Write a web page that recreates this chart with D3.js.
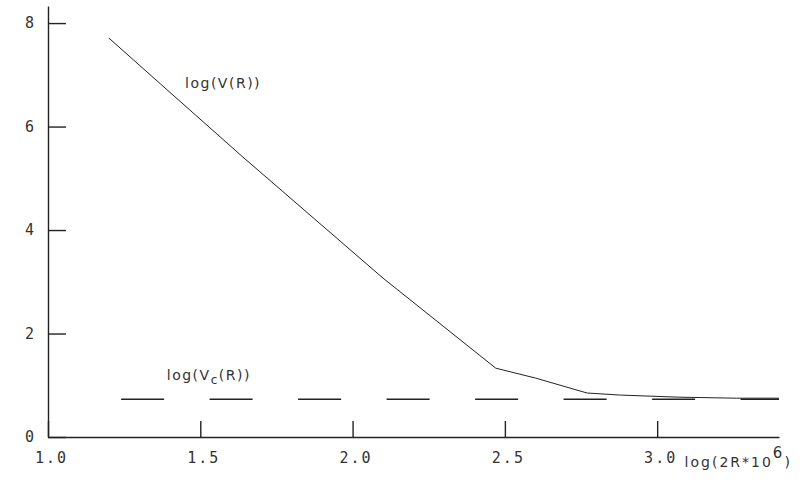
<!DOCTYPE html>
<html>

<head>
  <title>log V(R) vs log(2R*10^6)</title>
  <script src="https://cdn.jsdelivr.net/npm/d3@7"></script>
  <style type="text/css">
    html,
    body {
      padding: 0;
      margin: 0;
      background: #fff;
    }

    svg {
      display: block;
    }

    .axis path,
    .axis line {
      fill: none;
      stroke: #222;
      stroke-width: 1.4px;
    }

    .axis text {
      font-family: "DejaVu Sans Mono", monospace;
      font-size: 15px;
      fill: #333;
      letter-spacing: 2px;
    }

    .lbl {
      font-family: "DejaVu Sans", sans-serif;
      font-size: 14px;
      letter-spacing: 1.5px;
      fill: #333;
    }
  </style>
</head>

<body>
  <svg class="svg"></svg>
  <script type="text/javascript">
    // ticks
    var xTicks = [1.0, 1.5, 2.0, 2.5, 3.0];
    var yTicks = [0, 2, 4, 6, 8];

    // log(V(R)) curve
    var logR = [1.2, 1.37, 1.64, 2.1, 2.47, 2.6, 2.77, 2.88, 3.07, 3.26, 3.4];
    var logV = [7.71, 6.82, 5.41, 3.07, 1.33, 1.14, 0.85, 0.81, 0.77, 0.75, 0.75];

    // log(Vc(R)) dashed level
    var logRc = [1.24, 3.4];
    var logVc = [0.73, 0.73];

    var W = 808, H = 484;
    var svg = d3.select('.svg')
      .attr('width', W)
      .attr('height', H);

    var xScale = d3.scaleLinear()
      .domain([1.0, 3.4])
      .range([48, 779]);

    var yScale = d3.scaleLinear()
      .domain([0, 8.33])
      .range([437, 6]);

    var xAxis = d3.axisBottom(xScale)
      .tickValues(xTicks)
      .tickFormat(d3.format('.1f'))
      .tickSizeInner(-16)
      .tickSizeOuter(0)
      .tickPadding(15);

    var yAxis = d3.axisLeft(yScale)
      .tickValues(yTicks)
      .tickFormat(d3.format('d'))
      .tickSizeInner(-18)
      .tickSizeOuter(0)
      .tickPadding(14);

    svg.append('g')
      .attr('class', 'x axis')
      .attr('transform', `translate(0, ${yScale(0)})`)
      .call(xAxis);

    svg.append('g')
      .attr('class', 'y axis')
      .attr('transform', `translate(${xScale(1.0)}, 0)`)
      .call(yAxis);

    svg.select('.x.axis').selectAll('.tick text')
      .attr('dx', 3);

    svg.select('.y.axis').selectAll('.tick text')
      .style('letter-spacing', '0px');

    var line = d3.line()
      .x(d => xScale(d[0]))
      .y(d => yScale(d[1]));

    // dashed Vc
    svg.append('path')
      .datum(d3.zip(logRc, logVc))
      .attr('fill', 'none')
      .attr('stroke', '#222')
      .attr('stroke-width', 1.5)
      .attr('stroke-dasharray', '43,45.5')
      .attr('d', line);

    // V(R)
    svg.append('path')
      .datum(d3.zip(logR, logV))
      .attr('fill', 'none')
      .attr('stroke', '#222')
      .attr('stroke-width', 1)
      .attr('d', line);

    // labels
    var t1 = svg.append('text')
      .attr('class', 'lbl')
      .attr('x', xScale(1.45))
      .attr('y', yScale(6.75))
      .text('log(V(R))');

    var t2 = svg.append('text')
      .attr('class', 'lbl')
      .attr('x', xScale(1.39))
      .attr('y', yScale(1.1))
      .text('log(V');
    t2.append('tspan')
      .attr('dy', 4)
      .style('font-size', '12px')
      .text('c');
    t2.append('tspan')
      .attr('dy', -4)
      .text('(R))');

    var t3 = svg.append('text')
      .attr('class', 'lbl')
      .attr('x', xScale(3.09))
      .attr('y', yScale(-0.58))
      .style('letter-spacing', '2px')
      .text('log(2R*10');
    t3.append('tspan')
      .attr('dy', -9)
      .style('font-size', '15px')
      .text('6');
    t3.append('tspan')
      .attr('dy', 9)
      .text(')');
  </script>
</body>

</html>
